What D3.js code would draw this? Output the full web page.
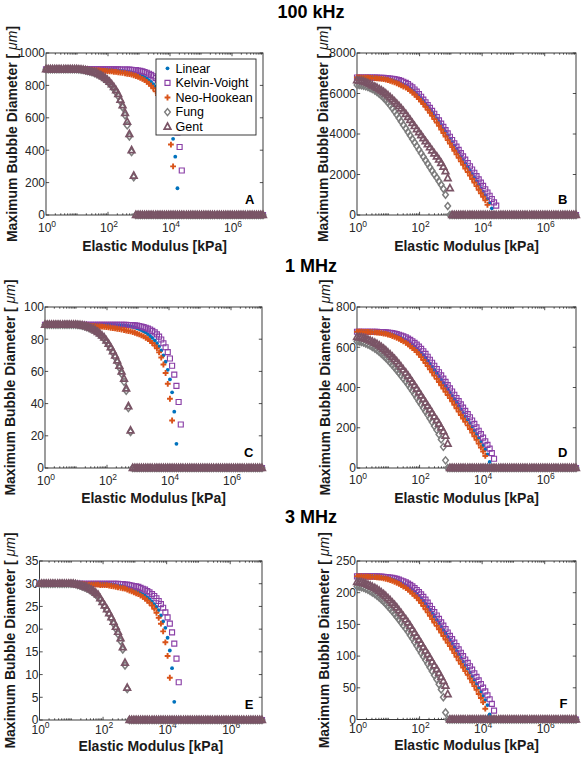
<!DOCTYPE html>
<html><head><meta charset="utf-8">
<script src="https://cdn.jsdelivr.net/npm/d3@7"></script>
<style>
html,body{margin:0;padding:0;background:#fff;}
svg{display:block;font-family:"Liberation Sans",Arial,Helvetica,sans-serif;}
</style></head><body>
<svg id="chart" width="584" height="763"></svg>
<script>
// ---------------- DATA ----------------
// x grid: log10 of elastic modulus [kPa]
const modulusExp = [
0,0.07,0.14,0.21,0.28,0.35,0.42,0.49,0.57,0.64,
0.71,0.78,0.85,0.92,0.99,1.06,1.13,1.2,1.27,1.34,
1.41,1.48,1.56,1.63,1.7,1.77,1.84,1.91,1.98,2.05,
2.12,2.19,2.26,2.33,2.4,2.47,2.55,2.62,2.69,2.76,
2.83,2.9,2.97,3.04,3.11,3.18,3.25,3.32,3.39,3.46,
3.54,3.61,3.68,3.75,3.82,3.89,3.96,4.03,4.1,4.17,
4.24,4.31,4.38,4.45,4.53,4.6,4.67,4.74,4.81,4.88,
4.95,5.02,5.09,5.16,5.23,5.3,5.37,5.44,5.52,5.59,
5.66,5.73,5.8,5.87,5.94,6.01,6.08,6.15,6.22,6.29,
6.36,6.43,6.51,6.58,6.65,6.72,6.79,6.86,6.93,7];

const seriesNames = ["Linear","Kelvin-Voight","Neo-Hookean","Fung","Gent"];
const rowTitles = ["100 kHz","1 MHz","3 MHz"];
const panelLetters = ["A","B","C","D","E","F"];
const xTickExps = [0,2,4,6];
const yTicksA = [0,200,400,600,800,1000];
const yTicksB = [0,2000,4000,6000,8000];
const yTicksC = [0,20,40,60,80,100];
const yTicksD = [0,200,400,600,800];
const yTicksE = [0,5,10,15,20,25,30,35];
const yTicksF = [0,50,100,150,200,250];

// ---- Panel A (100 kHz) ----
const linearA = [
900,900,900,900,900,900,900,900,900,900,
900,900,900,900,900,899,899,899,899,899,
898,898,898,898,898,897,897,897,896,896,
895,894,893,892,890,889,887,885,883,880,
877,873,869,864,858,851,843,833,822,808,
793,775,752,725,695,655,610,550,470,360,
165,0,0,0,0,0,0,0,0,0,
0,0,0,0,0,0,0,0,0,0,
0,0,0,0,0,0,0,0,0,0,
0,0,0,0,0,0,0,0,0,0];
const kelvinA = [
900,900,900,900,900,900,900,900,900,900,
900,900,900,900,900,900,900,900,900,900,
900,899,899,899,899,899,899,899,899,899,
899,899,899,899,898,898,898,898,897,896,
895,894,892,890,887,883,878,872,865,856,
845,832,816,798,775,750,718,680,635,580,
510,420,275,0,0,0,0,0,0,0,
0,0,0,0,0,0,0,0,0,0,
0,0,0,0,0,0,0,0,0,0,
0,0,0,0,0,0,0,0,0,0];
const neoA = [
900,900,900,900,900,900,900,900,900,900,
900,900,900,900,900,899,899,898,898,897,
896,895,894,893,892,891,890,889,888,887,
886,884,883,881,879,877,875,872,869,866,
862,858,853,847,840,832,822,811,798,782,
763,740,713,680,640,590,525,435,300,0,
0,0,0,0,0,0,0,0,0,0,
0,0,0,0,0,0,0,0,0,0,
0,0,0,0,0,0,0,0,0,0,
0,0,0,0,0,0,0,0,0,0];
const fungA = [
900,900,900,900,900,900,900,900,900,900,
900,900,900,900,900,898,897,895,892,889,
886,882,877,872,865,857,848,838,826,812,
796,778,757,733,702,665,615,553,485,388,
233,0,0,0,0,0,0,0,0,0,
0,0,0,0,0,0,0,0,0,0,
0,0,0,0,0,0,0,0,0,0,
0,0,0,0,0,0,0,0,0,0,
0,0,0,0,0,0,0,0,0,0,
0,0,0,0,0,0,0,0,0,0];
const gentA = [
900,900,900,900,900,900,900,900,900,900,
900,900,900,900,900,899,898,896,894,891,
888,885,881,876,870,863,855,846,835,822,
807,790,770,747,712,678,630,575,500,400,
243,0,0,0,0,0,0,0,0,0,
0,0,0,0,0,0,0,0,0,0,
0,0,0,0,0,0,0,0,0,0,
0,0,0,0,0,0,0,0,0,0,
0,0,0,0,0,0,0,0,0,0,
0,0,0,0,0,0,0,0,0,0];

// ---- Panel B (100 kHz) ----
const linearB = [
6790,6790,6790,6789,6788,6786,6783,6779,6774,6768,
6760,6750,6737,6721,6702,6680,6654,6624,6589,6548,
6500,6450,6395,6330,6255,6170,6075,5975,5865,5750,
5630,5500,5365,5225,5080,4930,4775,4615,4450,4280,
4110,3940,3770,3600,3425,3250,3075,2900,2725,2550,
2375,2200,2025,1850,1675,1500,1325,1150,975,800,
590,330,0,0,0,0,0,0,0,0,
0,0,0,0,0,0,0,0,0,0,
0,0,0,0,0,0,0,0,0,0,
0,0,0,0,0,0,0,0,0,0];
const kelvinB = [
6790,6790,6790,6790,6790,6789,6788,6787,6785,6783,
6780,6776,6770,6762,6753,6743,6729,6711,6689,6660,
6625,6580,6525,6460,6385,6300,6200,6090,5970,5840,
5700,5570,5430,5290,5145,5000,4838,4676,4514,4352,
4190,4028,3866,3704,3542,3380,3218,3056,2894,2732,
2570,2408,2246,2084,1922,1760,1598,1436,1274,1112,
950,788,626,464,0,0,0,0,0,0,
0,0,0,0,0,0,0,0,0,0,
0,0,0,0,0,0,0,0,0,0,
0,0,0,0,0,0,0,0,0,0];
const neoB = [
6790,6790,6788,6786,6783,6779,6774,6768,6760,6750,
6738,6723,6705,6683,6657,6627,6592,6552,6507,6457,
6402,6345,6290,6220,6140,6050,5950,5840,5725,5605,
5480,5345,5200,5050,4895,4735,4570,4400,4225,4050,
3875,3700,3525,3350,3175,3000,2825,2650,2475,2300,
2125,1950,1775,1600,1425,1250,1075,900,720,500,
0,0,0,0,0,0,0,0,0,0,
0,0,0,0,0,0,0,0,0,0,
0,0,0,0,0,0,0,0,0,0,
0,0,0,0,0,0,0,0,0,0];
const fungB = [
6425,6415,6400,6380,6350,6315,6270,6215,6150,6075,
5990,5895,5790,5675,5550,5415,5270,5115,4955,4790,
4620,4446,4272,4098,3924,3750,3576,3402,3228,3054,
2880,2706,2532,2358,2184,2010,1840,1665,1490,1300,
1000,440,0,0,0,0,0,0,0,0,
0,0,0,0,0,0,0,0,0,0,
0,0,0,0,0,0,0,0,0,0,
0,0,0,0,0,0,0,0,0,0,
0,0,0,0,0,0,0,0,0,0,
0,0,0,0,0,0,0,0,0,0];
const gentB = [
6650,6640,6620,6590,6550,6505,6455,6400,6340,6280,
6215,6150,6080,6000,5910,5815,5715,5610,5500,5385,
5265,5140,4990,4840,4690,4540,4390,4240,4090,3940,
3790,3640,3490,3340,3190,3040,2890,2735,2570,2385,
2160,1820,1320,0,0,0,0,0,0,0,
0,0,0,0,0,0,0,0,0,0,
0,0,0,0,0,0,0,0,0,0,
0,0,0,0,0,0,0,0,0,0,
0,0,0,0,0,0,0,0,0,0,
0,0,0,0,0,0,0,0,0,0];

// ---- Panel C (1 MHz) ----
const linearC = [
89,89,89,89,89,89,89,89,89,89,
89,89,89,89,89,89,89,89,89,89,
89,89,89,89,89,89,89,89,89,89,
89,88.9,88.9,88.8,88.8,88.7,88.6,88.4,88.2,87.9,
87.6,87.2,86.8,86.3,85.7,85,84.2,83.2,82,80.8,
79.3,77.5,75.5,73,70,66,61,55,47,35,
15,0,0,0,0,0,0,0,0,0,
0,0,0,0,0,0,0,0,0,0,
0,0,0,0,0,0,0,0,0,0,
0,0,0,0,0,0,0,0,0,0];
const kelvinC = [
89,89,89,89,89,89,89,89,89,89,
89,89,89,89,89,89,89,89,89,89,
89,89,89,89,89,89,89,89,89,89,
89,89,89,89,89,89,88.9,88.9,88.8,88.8,
88.7,88.6,88.4,88.2,87.9,87.5,87.1,86.6,86,85.2,
84.2,83,81.6,79.8,77.5,75,72,68,63.5,58,
51,41,27,0,0,0,0,0,0,0,
0,0,0,0,0,0,0,0,0,0,
0,0,0,0,0,0,0,0,0,0,
0,0,0,0,0,0,0,0,0,0];
const neoC = [
89,89,89,89,89,89,89,89,89,89,
89,89,89,89,89,88.9,88.8,88.7,88.6,88.5,
88.4,88.3,88.2,88.1,88,87.9,87.8,87.7,87.5,87.3,
87.1,86.9,86.7,86.5,86.3,86,85.7,85.4,85.1,84.8,
84.4,84,83.5,83,82.4,81.7,80.9,80,78.9,77.6,
76.1,74.3,71.8,68.6,64.3,59,52.3,43,29.5,0,
0,0,0,0,0,0,0,0,0,0,
0,0,0,0,0,0,0,0,0,0,
0,0,0,0,0,0,0,0,0,0,
0,0,0,0,0,0,0,0,0,0];
const fungC = [
89,89,89,89,89,89,89,89,89,89,
89,89,89,89,89,88.8,88.6,88.3,88,87.6,
87.1,86.5,85.8,85,84,82.9,81.6,80.2,78.4,76.4,
74.1,71.6,68.8,65.7,62.3,58.5,53.5,48,37.2,22.4,
0,0,0,0,0,0,0,0,0,0,
0,0,0,0,0,0,0,0,0,0,
0,0,0,0,0,0,0,0,0,0,
0,0,0,0,0,0,0,0,0,0,
0,0,0,0,0,0,0,0,0,0,
0,0,0,0,0,0,0,0,0,0];
const gentC = [
89,89,89,89,89,89,89,89,89,89,
89,89,89,89,89,88.9,88.8,88.6,88.3,88,
87.4,86.9,86.2,85.4,84.5,83.5,82.3,81,79.2,77.2,
75,72.5,69.8,66.8,63.5,60,55.5,49.4,38.4,23.3,
0,0,0,0,0,0,0,0,0,0,
0,0,0,0,0,0,0,0,0,0,
0,0,0,0,0,0,0,0,0,0,
0,0,0,0,0,0,0,0,0,0,
0,0,0,0,0,0,0,0,0,0,
0,0,0,0,0,0,0,0,0,0];

// ---- Panel D (1 MHz) ----
const linearD = [
677,677,677,677,677,676,676,676,675,675,
674,673,672,670,668,666,663,660,656,652,
647,641,635,628,620,612,603,593,583,572,
560,547,533,518,503,487,471,455,439,423,
407,391,375,359,342,325,308,291,274,257,
240,223,205,187,169,150,131,112,92,68,
30,0,0,0,0,0,0,0,0,0,
0,0,0,0,0,0,0,0,0,0,
0,0,0,0,0,0,0,0,0,0,
0,0,0,0,0,0,0,0,0,0];
const kelvinD = [
677,677,677,677,677,677,677,677,677,677,
676,676,675,674,673,672,670,668,665,662,
658,654,649,643,637,630,622,613,603,592,
580,567,553,538,523,508,492,476,460,444,
428,412,396,380,364,348,332,316,300,284,
268,252,236,219,202,185,168,151,133,115,
96,74,46,0,0,0,0,0,0,0,
0,0,0,0,0,0,0,0,0,0,
0,0,0,0,0,0,0,0,0,0,
0,0,0,0,0,0,0,0,0,0];
const neoD = [
677,677,677,676,676,676,675,675,674,673,
672,670,668,666,663,660,656,652,647,642,
636,629,622,614,605,596,586,576,564,551,
537,522,507,491,475,459,443,427,411,395,
379,363,347,331,314,297,280,263,246,229,
212,194,176,158,140,121,102,82,60,0,
0,0,0,0,0,0,0,0,0,0,
0,0,0,0,0,0,0,0,0,0,
0,0,0,0,0,0,0,0,0,0,
0,0,0,0,0,0,0,0,0,0];
const fungD = [
629,628,626,623,619,614,608,601,594,586,
577,568,558,547,536,524,512,499,486,473,
459,445,430,415,399,383,366,349,332,315,
298,281,264,246,228,209,189,167,142,105,
38,0,0,0,0,0,0,0,0,0,
0,0,0,0,0,0,0,0,0,0,
0,0,0,0,0,0,0,0,0,0,
0,0,0,0,0,0,0,0,0,0,
0,0,0,0,0,0,0,0,0,0,
0,0,0,0,0,0,0,0,0,0];
const gentD = [
651,650,648,645,642,638,633,628,622,616,
609,601,593,584,574,564,553,542,530,517,
503,489,474,459,443,427,411,394,377,360,
343,326,309,292,274,256,238,220,201,182,
160,121,0,0,0,0,0,0,0,0,
0,0,0,0,0,0,0,0,0,0,
0,0,0,0,0,0,0,0,0,0,
0,0,0,0,0,0,0,0,0,0,
0,0,0,0,0,0,0,0,0,0,
0,0,0,0,0,0,0,0,0,0];

// ---- Panel E (3 MHz) ----
const linearE = [
30,30,30,30,30,30,30,30,30,30,
30,30,30,30,30,30,30,30,30,30,
30,30,30,30,30,30,30,30,30,30,
30,29.9,29.9,29.8,29.7,29.6,29.5,29.4,29.3,29.2,
29.1,28.9,28.7,28.5,28.3,28,27.7,27.4,27,26.6,
26.1,25.5,24.9,24.2,23,21.7,20.3,18.1,15.3,11.4,
4,0,0,0,0,0,0,0,0,0,
0,0,0,0,0,0,0,0,0,0,
0,0,0,0,0,0,0,0,0,0,
0,0,0,0,0,0,0,0,0,0];
const kelvinE = [
30,30,30,30,30,30,30,30,30,30,
30,30,30,30,30,30,30,30,30,30,
30,30,30,30,30,30,30,30,30,30,
30,30,30,30,30,30,29.9,29.9,29.8,29.8,
29.7,29.6,29.5,29.4,29.3,29.1,28.9,28.7,28.4,28.1,
27.7,27.3,26.8,26.2,25.5,24.7,23.7,22.6,21.2,19.3,
16.8,13.5,8.3,0,0,0,0,0,0,0,
0,0,0,0,0,0,0,0,0,0,
0,0,0,0,0,0,0,0,0,0,
0,0,0,0,0,0,0,0,0,0];
const neoE = [
30,30,30,30,30,30,30,30,30,30,
30,30,30,30,30,29.9,29.9,29.9,29.9,29.9,
29.9,29.8,29.8,29.8,29.8,29.8,29.8,29.7,29.7,29.7,
29.7,29.6,29.5,29.4,29.3,29.2,29.1,29,28.9,28.7,
28.5,28.3,28.1,27.9,27.7,27.4,27.1,26.7,26.3,25.8,
25.2,24.5,23.6,22.5,21.2,19.5,17.1,14.1,9.3,0,
0,0,0,0,0,0,0,0,0,0,
0,0,0,0,0,0,0,0,0,0,
0,0,0,0,0,0,0,0,0,0,
0,0,0,0,0,0,0,0,0,0];
const fungE = [
30,30,30,30,30,30,30,30,30,30,
30,30,30,30,30,30,29.9,29.7,29.6,29.4,
29.2,29,28.7,28.4,28,27.6,27.1,26.5,25.8,25,
24.2,23.3,22.3,21.2,20.1,18.9,17.4,15.5,12,6.8,
0,0,0,0,0,0,0,0,0,0,
0,0,0,0,0,0,0,0,0,0,
0,0,0,0,0,0,0,0,0,0,
0,0,0,0,0,0,0,0,0,0,
0,0,0,0,0,0,0,0,0,0,
0,0,0,0,0,0,0,0,0,0];
const gentE = [
30,30,30,30,30,30,30,30,30,30,
30,30,30,30,30,30,29.9,29.8,29.7,29.6,
29.4,29.2,29,28.7,28.4,28,27.6,26.8,26,25.2,
24.4,23.5,22.6,21.6,20.5,19.4,18,16,12.6,7.1,
0,0,0,0,0,0,0,0,0,0,
0,0,0,0,0,0,0,0,0,0,
0,0,0,0,0,0,0,0,0,0,
0,0,0,0,0,0,0,0,0,0,
0,0,0,0,0,0,0,0,0,0,
0,0,0,0,0,0,0,0,0,0];

// ---- Panel F (3 MHz) ----
const linearF = [
225.7,225.7,225.7,225.7,225.7,225.3,225.3,225.3,225,225,
224.7,224.3,224,223.3,222.7,222,221,220,218.7,217.3,
215.7,213.7,211.7,209.3,206.7,204,201,197.7,194.3,190.7,
186.7,182.3,177.7,172.7,167.7,162.3,157,151.7,146.3,141,
135.7,130.3,125,119.7,114,108.3,102.7,97,91.3,85.7,
80,74.3,68.3,62.3,56.3,50,43.7,37.3,30.7,22.7,
8,0,0,0,0,0,0,0,0,0,
0,0,0,0,0,0,0,0,0,0,
0,0,0,0,0,0,0,0,0,0,
0,0,0,0,0,0,0,0,0,0];
const kelvinF = [
225.7,225.7,225.7,225.7,225.7,225.7,225.7,225.7,225.7,225.7,
225.3,225.3,225,224.7,224.3,224,223.3,222.7,221.7,220.7,
219.3,218,216.3,214.3,212.3,210,207.3,204.3,201,197.3,
193.3,189,184.3,179.3,174.3,169.3,164,158.7,153.3,148,
142.7,137.3,132,126.7,121.3,116,110.7,105.3,100,94.7,
89.3,84,78.7,73,67.3,61.7,56,50.3,44.3,38.3,
32,24.7,14,0,0,0,0,0,0,0,
0,0,0,0,0,0,0,0,0,0,
0,0,0,0,0,0,0,0,0,0,
0,0,0,0,0,0,0,0,0,0];
const neoF = [
225.7,225.7,225.7,225.3,225.3,225.3,225,225,224.7,224.3,
224,223.3,222.7,222,221,220,218.7,217.3,215.7,214,
212,209.7,207.3,204.7,201.7,198.7,195.3,192,188,183.7,
179,174,169,163.7,158.3,153,147.7,142.3,137,131.7,
126.3,121,115.7,110.3,104.7,99,93.3,87.7,82,76.3,
70.7,64.7,58.7,52.7,46.7,40.3,34,27.3,17,0,
0,0,0,0,0,0,0,0,0,0,
0,0,0,0,0,0,0,0,0,0,
0,0,0,0,0,0,0,0,0,0,
0,0,0,0,0,0,0,0,0,0];
const fungF = [
209.7,209.3,208.7,207.7,206.3,204.7,202.7,200.3,198,195.3,
192.3,189.3,186,182.3,178.7,174.7,170.7,166.3,162,157.7,
153,148.3,143.3,138.3,133,127.7,122,116.3,110.7,105,
99.3,93.7,88,82,76,69.7,63,55.7,47.3,35,
11,0,0,0,0,0,0,0,0,0,
0,0,0,0,0,0,0,0,0,0,
0,0,0,0,0,0,0,0,0,0,
0,0,0,0,0,0,0,0,0,0,
0,0,0,0,0,0,0,0,0,0,
0,0,0,0,0,0,0,0,0,0];
const gentF = [
217,216.7,216,215,214,212.7,211,209.3,207.3,205.3,
203,200.3,197.7,194.7,191.3,188,184.3,180.7,176.7,172.3,
167.7,163,158,153,147.7,142.3,137,131.3,125.7,120,
114.3,108.7,103,97.3,91.3,85.3,79.3,73.3,67,60.7,
53.3,40,0,0,0,0,0,0,0,0,
0,0,0,0,0,0,0,0,0,0,
0,0,0,0,0,0,0,0,0,0,
0,0,0,0,0,0,0,0,0,0,
0,0,0,0,0,0,0,0,0,0,
0,0,0,0,0,0,0,0,0,0];

// ---------------- LAYOUT / STYLE ----------------
const seriesStyle = [
  {type:"dot",      color:"#0072BD"},
  {type:"square",   color:"#8a3fa6"},
  {type:"plus",     color:"#D95319"},
  {type:"diamond",  color:"#7d7d7d"},
  {type:"triangle", color:"#7a5466"}
];
const panels = [
  {yMax:1000, yTicks:yTicksA, data:[linearA,kelvinA,neoA,fungA,gentA], legend:true,
   left:46, right:263, top:53, bottom:215, tickDy:17, labelDy:36, ylabX:16.5},
  {yMax:8000, yTicks:yTicksB, data:[linearB,kelvinB,neoB,fungB,gentB],
   left:357, right:576, top:53, bottom:215, tickDy:17, labelDy:36, ylabX:328},
  {yMax:100, yTicks:yTicksC, data:[linearC,kelvinC,neoC,fungC,gentC],
   left:45, right:262, top:307, bottom:468, tickDy:17, labelDy:35, ylabX:15},
  {yMax:800, yTicks:yTicksD, data:[linearD,kelvinD,neoD,fungD,gentD],
   left:357, right:576, top:307, bottom:468, tickDy:16, labelDy:35, ylabX:330},
  {yMax:35, yTicks:yTicksE, data:[linearE,kelvinE,neoE,fungE,gentE],
   left:39.5, right:262, top:561, bottom:720, tickDy:13.5, labelDy:30.5, ylabX:15},
  {yMax:250, yTicks:yTicksF, data:[linearF,kelvinF,neoF,fungF,gentF],
   left:357, right:576, top:561, bottom:719.5, tickDy:13.5, labelDy:30.5, ylabX:329}
];
const titleY = [18.3, 271.7, 523];
const axisColor = "#262626";

const svg = d3.select("#chart");

function symbolPath(type, cx, cy){
  switch(type){
    case "square":   return `M${cx-2.5},${cy-2.5}h5v5h-5Z`;
    case "plus":     return `M${cx-2.9},${cy}h5.8M${cx},${cy-2.9}v5.8`;
    case "diamond":  return `M${cx},${cy-3.5}L${cx+2.8},${cy}L${cx},${cy+3.5}L${cx-2.8},${cy}Z`;
    case "triangle": return `M${cx},${cy-3.7}L${cx+3.3},${cy+2.4}L${cx-3.3},${cy+2.4}Z`;
  }
  return "";
}
const strokeW = {square:1.15, plus:1.9, diamond:1.5, triangle:1.7};

function drawMarkers(g, type, color, pts){
  if(type === "dot"){
    g.selectAll(null).data(pts).join("circle")
      .attr("cx", d=>d[0]).attr("cy", d=>d[1]).attr("r", 1.9).attr("fill", color);
  } else {
    g.selectAll(null).data(pts).join("path")
      .attr("d", d=>symbolPath(type, d[0], d[1]))
      .attr("fill","none").attr("stroke", color).attr("stroke-width", strokeW[type])
      .attr("stroke-linejoin","miter");
  }
}

// titles
rowTitles.forEach((t,i)=>{
  svg.append("text").attr("x",311).attr("y",titleY[i]).attr("text-anchor","middle")
    .attr("font-size",18).attr("font-weight","bold").attr("fill","#000").text(t);
});

panels.forEach((p, pi)=>{
  const x = d3.scaleLog().domain([1,1e7]).range([p.left, p.right]);
  const y = d3.scaleLinear().domain([0,p.yMax]).range([p.bottom, p.top]);
  const g = svg.append("g");

  // frame
  g.append("rect").attr("x",p.left).attr("y",p.top)
    .attr("width",p.right-p.left).attr("height",p.bottom-p.top)
    .attr("fill","none").attr("stroke",axisColor).attr("stroke-width",0.9);

  // x ticks (major even decades, minor others) bottom & top
  const tg = g.append("g").attr("stroke",axisColor).attr("stroke-width",0.8);
  for(let k=0;k<7;k++){
    for(let m=1;m<=9;m++){
      const v = m*Math.pow(10,k);
      if(m===1 && k===0) continue;
      const major = (m===1 && k%2===0);
      const len = major ? 3.2 : 1.7;
      const xx = x(v);
      tg.append("line").attr("x1",xx).attr("x2",xx).attr("y1",p.bottom).attr("y2",p.bottom-len);
      tg.append("line").attr("x1",xx).attr("x2",xx).attr("y1",p.top).attr("y2",p.top+len);
    }
  }
  // y ticks left & right
  p.yTicks.forEach(v=>{
    const yy = y(v);
    tg.append("line").attr("x1",p.left).attr("x2",p.left+3.2).attr("y1",yy).attr("y2",yy);
    tg.append("line").attr("x1",p.right).attr("x2",p.right-3.2).attr("y1",yy).attr("y2",yy);
  });

  // y tick labels
  p.yTicks.forEach(v=>{
    g.append("text").attr("x",p.left-1).attr("y",y(v)+4.3).attr("text-anchor","end")
      .attr("font-size",12).attr("fill",axisColor).text(v);
  });
  // x tick labels
  xTickExps.forEach(e=>{
    const t = g.append("text").attr("x",x(Math.pow(10,e))+1).attr("y",p.bottom+p.tickDy)
      .attr("text-anchor","middle").attr("font-size",12).attr("fill",axisColor);
    t.append("tspan").text("10");
    t.append("tspan").attr("dy",-5.5).attr("font-size",8.5).text(e);
  });

  // axis labels
  g.append("text").attr("x",(p.left+p.right)/2).attr("y",p.bottom+p.labelDy)
    .attr("text-anchor","middle").attr("font-size",14).attr("font-weight","bold")
    .attr("fill","#1a1a1a").text("Elastic Modulus [kPa]");
  const yl = g.append("text")
    .attr("transform",`translate(${p.ylabX},${(p.top+p.bottom)/2}) rotate(-90)`)
    .attr("text-anchor","middle").attr("font-size",14).attr("font-weight","bold").attr("fill","#1a1a1a");
  yl.append("tspan").text("Maximum Bubble Diameter [ ");
  yl.append("tspan").attr("font-weight","normal").attr("font-style","italic").text("\u03bcm");
  yl.append("tspan").text("]");

  // data
  seriesStyle.forEach((s, si)=>{
    const vals = p.data[si];
    const pts = vals.map((v,i)=>[x(Math.pow(10, modulusExp[i])), y(v)]);
    drawMarkers(g.append("g"), s.type, s.color, pts);
  });

  // panel letter
  g.append("text").attr("x",p.right-8.5).attr("y",p.bottom-11.5).attr("text-anchor","end")
    .attr("font-size",13).attr("font-weight","bold").attr("fill","#000").text(panelLetters[pi]);

  // legend
  if(p.legend){
    const lg = svg.append("g");
    lg.append("rect").attr("x",156).attr("y",59).attr("width",100).attr("height",76)
      .attr("fill","#fff").attr("stroke",axisColor).attr("stroke-width",0.9);
    seriesNames.forEach((n,i)=>{
      const cy = 68.3 + i*14.6;
      drawMarkers(lg.append("g"), seriesStyle[i].type, seriesStyle[i].color, [[167.5, cy]]);
      lg.append("text").attr("x",175.5).attr("y",cy+4.3).attr("font-size",12.5)
        .attr("fill","#000").text(n);
    });
  }
});
</script>
</body></html>
